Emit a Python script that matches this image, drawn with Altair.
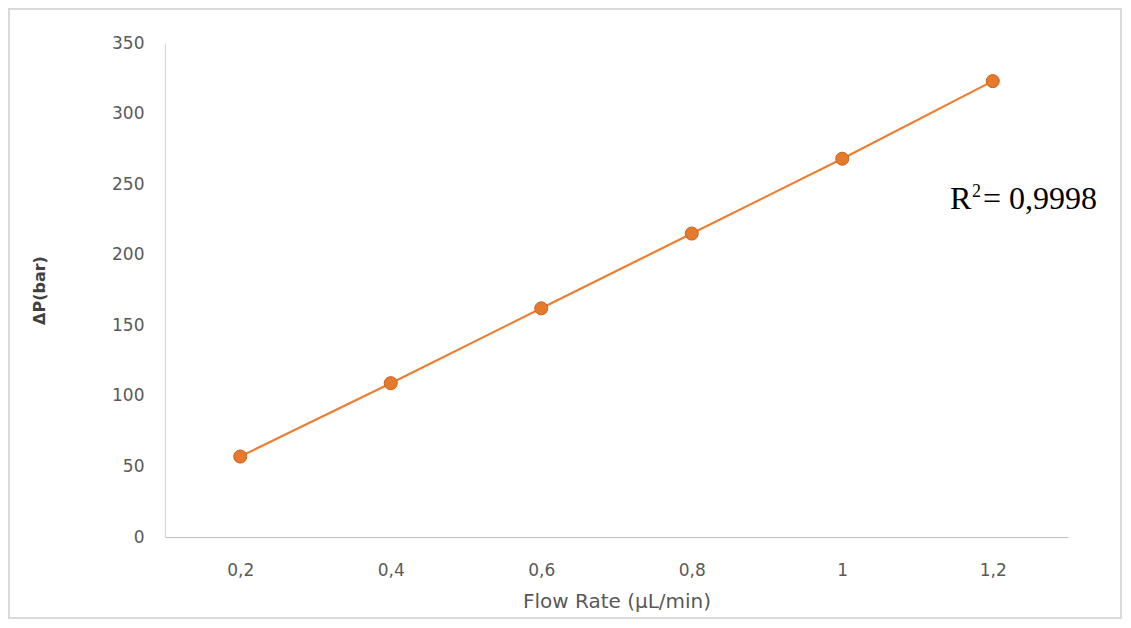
import altair as alt
import pandas as pd

flow_labels = ["0,2", "0,4", "0,6", "0,8", "1", "1,2"]
delta_p = [57, 109, 162, 215, 268, 323]
r2_parts = ["R", "2", "= 0,9998"]

df = pd.DataFrame({"flow": flow_labels, "dp": delta_p})

W, H = 903, 494
ORANGE = "#ED7D31"
FONT = "DejaVu Sans"

x_enc = alt.X("flow:N", sort=flow_labels,
              scale=alt.Scale(paddingInner=0, paddingOuter=0.5),
              axis=alt.Axis(title="Flow Rate (µL/min)", labelAngle=0, ticks=False,
                            domainColor="#bfbfbf", domainWidth=1.2,
                            labelColor="#595959", labelFontSize=17, labelFont=FONT,
                            labelPadding=25, titleFont=FONT, titleFontSize=20,
                            titleColor="#595959", titleFontWeight="normal", titlePadding=13,
                            grid=False))
y_enc = alt.Y("dp:Q", scale=alt.Scale(domain=[0, 350], nice=False),
              axis=alt.Axis(title="ΔP(bar)", values=[0, 50, 100, 150, 200, 250, 300, 350],
                            ticks=False, domainColor="#d9d9d9", domainWidth=1.2,
                            labelColor="#595959", labelFontSize=17, labelFont=FONT,
                            labelPadding=21, titleFont=FONT, titleFontSize=16,
                            titleColor="#404040", titleFontWeight="bold", titlePadding=64,
                            grid=False))

base = alt.Chart(df)
line = base.mark_line(color=ORANGE, strokeWidth=2.2).encode(x=x_enc, y=y_enc)
pts = base.mark_point(filled=True, size=170, opacity=1, color="#E67A2C",
                      stroke="#C8621E", strokeWidth=1).encode(x=x_enc, y=y_enc)

rdf = pd.DataFrame({"t": r2_parts})
r_main = alt.Chart(rdf.iloc[[0]]).mark_text(
    font="Liberation Serif", fontSize=32, color="#000000", align="left", baseline="alphabetic"
).encode(text="t:N", x=alt.value(785), y=alt.value(166))
r_sup = alt.Chart(rdf.iloc[[1]]).mark_text(
    font="Liberation Serif", fontSize=18, color="#000000", align="left", baseline="alphabetic"
).encode(text="t:N", x=alt.value(807), y=alt.value(154))
r_rest = alt.Chart(rdf.iloc[[2]]).mark_text(
    font="Liberation Serif", fontSize=32, color="#000000", align="left", baseline="alphabetic"
).encode(text="t:N", x=alt.value(818), y=alt.value(166))

frame = alt.Chart(rdf.iloc[[0]]).mark_rect(
    fill=None, stroke="#d9d9d9", strokeWidth=2, clip=False
).encode(x=alt.value(-156), x2=alt.value(956), y=alt.value(-34), y2=alt.value(575))

chart = alt.layer(frame, line, pts, r_main, r_sup, r_rest).properties(
    width=W, height=H,
    background="white",
    autosize=alt.AutoSizeParams(type="none"),
    padding={"left": 157, "top": 35, "right": 55, "bottom": 82},
).configure_view(stroke=None)

chart.save("out.html", embed_options={"renderer": "svg", "actions": False})
